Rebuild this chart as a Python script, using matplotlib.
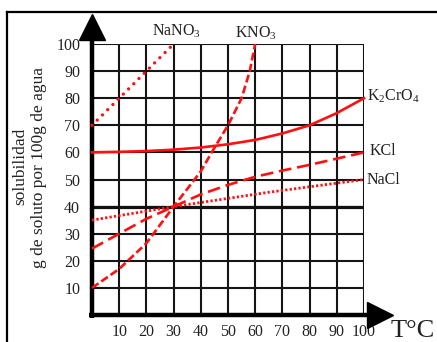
import matplotlib
matplotlib.use("Agg")
import matplotlib.pyplot as plt
from matplotlib.lines import Line2D

plt.rcParams['font.family'] = ['Liberation Serif', 'DejaVu Serif']
plt.rcParams['mathtext.fontset'] = 'custom'
plt.rcParams['mathtext.rm'] = 'Liberation Serif'
plt.rcParams['mathtext.it'] = 'Liberation Serif:italic'

# ---- data ----
nano3_t = [0, 10, 20, 30]
nano3_s = [70, 80, 90, 100]

kno3_t = [0, 10, 20, 30, 40, 44, 50, 55, 58, 60]
kno3_s = [10, 17, 26.5, 40, 53, 60, 70, 80, 90, 100]

k2cro4_t = [0, 10, 20, 30, 40, 50, 60, 70, 80, 90, 100]
k2cro4_s = [60, 60.2, 60.5, 61, 61.8, 63, 64.6, 67, 70, 74.5, 80]

kcl_t = [0, 10, 20, 30, 40, 50, 60, 70, 80, 90, 100]
kcl_s = [24.5, 30, 35.5, 40, 44.5, 48, 51, 53.3, 55.4, 57.7, 60]

nacl_t = [0, 30, 65, 100]
nacl_s = [35, 40, 45.3, 50]

x_ticks = [10, 20, 30, 40, 50, 60, 70, 80, 90, 100]
y_ticks = [10, 20, 30, 40, 50, 60, 70, 80, 90, 100]

W, H = 437, 342
fig = plt.figure(figsize=(W / 100, H / 100), dpi=100)
ax = fig.add_axes([92 / W, (H - 315) / H, 272 / W, 271 / H])
ax.set_xlim(0, 100)
ax.set_ylim(0, 100)
for s in ax.spines.values():
    s.set_visible(False)

ax.set_xticks(x_ticks)
ax.set_yticks(y_ticks)
ax.set_xticks([0], minor=True)
ax.set_yticks([0], minor=True)
ax.tick_params(axis='both', which='both', length=0, labelsize=11.5, colors='#222222')
ax.tick_params(axis='y', pad=8.5)
ax.tick_params(axis='x', pad=6.5)
ax.set_axisbelow(True)
ax.grid(True, which='major', color='#151515', lw=1.5)
# thicker line at 40
ax.axhline(40, color='#111111', lw=2.3, zorder=1.5)

# thick axes with arrow heads
ax.plot([0, 0], [-1.2, 103], color='black', lw=3.2, clip_on=False, solid_capstyle='butt', zorder=3)
ax.plot([-1.0, 103], [0, 0], color='black', lw=3.2, clip_on=False, solid_capstyle='butt', zorder=3)
ax.plot(0, 106.1, marker='^', ms=18.5, color='black', clip_on=False, zorder=3)
ax.plot(105.9, 0, marker='>', ms=18.5, color='black', clip_on=False, zorder=3)

red = '#ff0f0f'
ax.plot(nano3_t, nano3_s, color=red, lw=2.4, linestyle=(0, (0.01, 2.2)),
        dash_capstyle='round', clip_on=False, zorder=4)
ax.plot(kno3_t, kno3_s, color=red, lw=1.9, linestyle=(0, (3.0, 1.3)), clip_on=False, zorder=4)
ax.plot(k2cro4_t, k2cro4_s, color=red, lw=1.9, clip_on=False, zorder=4)
ax.plot(kcl_t, kcl_s, color=red, lw=1.9, linestyle=(0, (4.8, 2.2)), clip_on=False, zorder=4)
ax.plot(nacl_t, nacl_s, color=red, lw=2.0, linestyle=(0, (0.8, 0.8)), clip_on=False, zorder=4)

lab_kw = dict(fontsize=11.5, color='#222222', va='center', ha='left', clip_on=False)
ax.text(22.1, 104.8, r'NaNO$_\mathrm{3}$', **lab_kw)
ax.text(52.6, 103.9, r'KNO$_\mathrm{3}$', **lab_kw)
ax.text(101.1, 80.6, r'K$_\mathrm{2}$CrO$_\mathrm{4}$', **lab_kw)
ax.text(102.2, 60.5, 'KCl', **lab_kw)
ax.text(101.1, 49.8, 'NaCl', **lab_kw)

fig.text(413 / W, 1 - 331 / H, 'T°C', fontsize=19, color='#222222', ha='center', va='center')
fig.text(20 / W, 1 - 166 / H, 'solubilidad', fontsize=12.5, rotation=90,
         color='#222222', ha='center', va='center')
fig.text(39 / W, 1 - 168 / H, 'g de soluto por 100g de agua', fontsize=12.5, rotation=90,
         color='#222222', ha='center', va='center')

# outer frame
fig.add_artist(Line2D([7 / W, 7 / W], [0, 1 - 12 / H], color='black', lw=1.6))
fig.add_artist(Line2D([7 / W, 1], [1 - 12 / H, 1 - 12 / H], color='black', lw=1.6))

fig.savefig('out.png', dpi=100)
